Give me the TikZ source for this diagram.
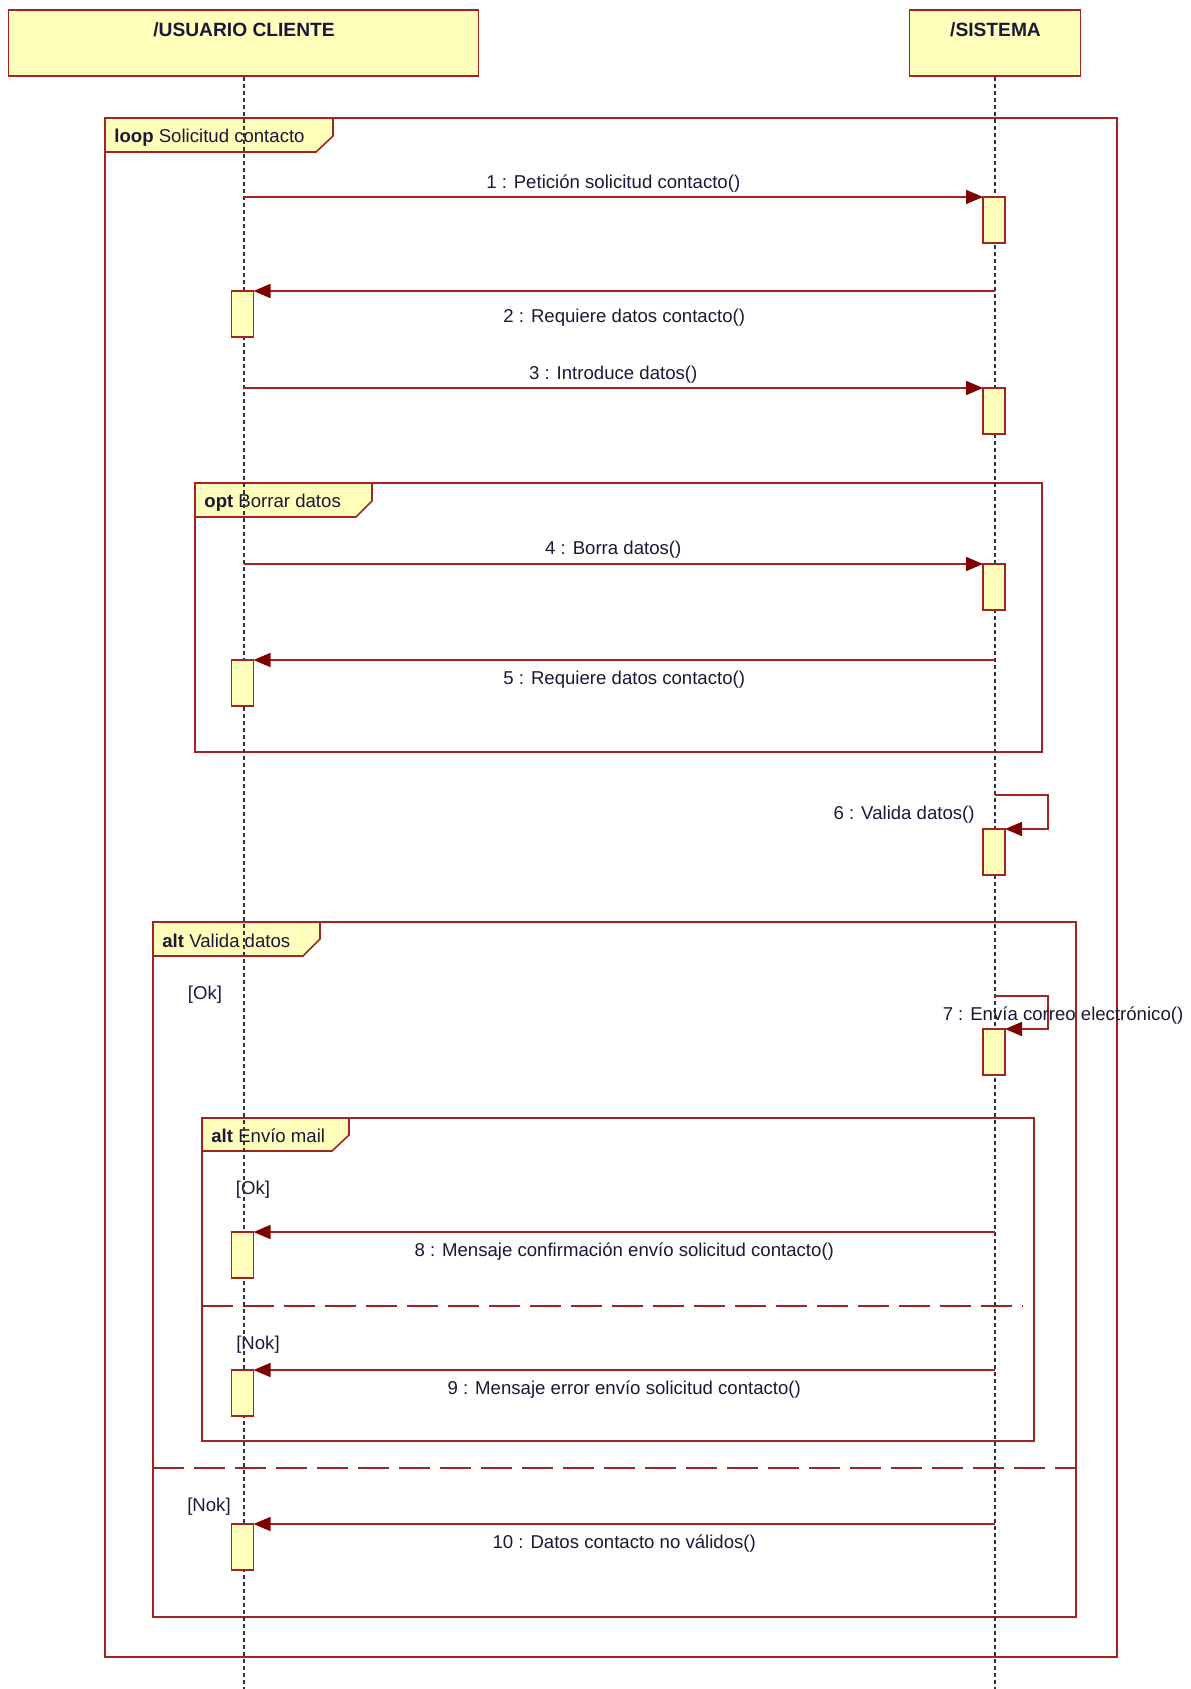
\documentclass[tikz,border=0pt]{standalone}
\usepackage{fontspec}
\setmainfont{Liberation Sans}
\usetikzlibrary{arrows.meta}
\definecolor{frm}{RGB}{163,35,35}
\definecolor{fil}{RGB}{255,255,187}
\definecolor{arr}{RGB}{128,0,0}
\definecolor{txt}{RGB}{25,25,55}
\definecolor{lfl}{RGB}{50,50,50}
\tikzset{
 head/.style={draw=frm, fill=fil, line width=0.8pt, inner sep=0pt},
 act/.style={draw=frm, fill=fil, line width=0.8pt, minimum width=11pt, minimum height=23pt, inner sep=0pt, outer sep=0pt},
 lifeline/.style={draw=lfl, line width=1pt, dash pattern=on 2pt off 1.5pt},
 frame/.style={draw=frm, line width=0.8pt},
 tab/.style={draw=frm, fill=fil, line width=0.8pt},
 sep/.style={draw=frm, line width=0.8pt, dash pattern=on 15.5pt off 5pt},
 msg/.style={draw=frm, line width=0.8pt, -{Triangle[length=8.5pt,width=7pt,color=arr]}},
 lbl/.style={font=\fontsize{9.3}{11}\selectfont, text=txt, inner sep=0pt},
 hd/.style={font=\bfseries\fontsize{9.6}{11}\selectfont, text=txt, inner sep=0pt},
}
\begin{document}
\begin{tikzpicture}[x=0.5pt,y=-0.5pt]
\useasboundingbox (0,0) rectangle (1190,1689);
% heads
\node[head, minimum width=235pt, minimum height=33pt] (uc) at (243.5,43) {};
\node[hd] (uct) at (244,29.5) {/USUARIO CLIENTE};
\node[head, minimum width=85.5pt, minimum height=33pt] (si) at (995,43) {};
\node[hd] (sit) at (995.5,29.5) {/SISTEMA};
% frames
\draw[frame] (105,118) rectangle (1117,1657);
\draw[tab] (105,118) -- (333,118) -- (333,136) -- (316,152) -- (105,152) -- cycle;
\node[lbl, anchor=west] (tloop) at (114,137.5) {\textbf{loop} Solicitud contacto};
\draw[frame] (195,483) rectangle (1042,752);
\draw[tab] (195,483) -- (372,483) -- (372,501) -- (356,517) -- (195,517) -- cycle;
\node[lbl, anchor=west] (topt) at (204,503) {\textbf{opt} Borrar datos};
\draw[frame] (153,922) rectangle (1076,1617);
\draw[tab] (153,922) -- (320,922) -- (320,939) -- (303,956) -- (153,956) -- cycle;
\node[lbl, anchor=west] (talt1) at (162,940.5) {\textbf{alt} Valida datos};
\draw[frame] (202,1118) rectangle (1034,1441);
\draw[tab] (202,1118) -- (349,1118) -- (349,1135) -- (332,1151) -- (202,1151) -- cycle;
\node[lbl, anchor=west] (talt2) at (211,1135.5) {\textbf{alt} Envío mail};
\draw[sep] (202,1306) -- (1023,1306);
\draw[sep] (153,1468) -- (1076,1468);
% guards
\node[lbl] (g1) at (205,994.5) {[Ok]};
\node[lbl] (g2) at (253,1190) {[Ok]};
\node[lbl] (g3) at (258,1344.5) {[Nok]};
\node[lbl] (g4) at (209,1506.5) {[Nok]};
% lifelines
\coordinate (ucb) at (243.5,1689);
\coordinate (sib) at (995,1689);
\draw[lifeline] (uc.south) -- (ucb);
\draw[lifeline] (si.south) -- (sib);
% activations
\node[act] (a1) at (994,220) {};
\node[act] (a2) at (242.5,314) {};
\node[act] (a3) at (994,411) {};
\node[act] (a4) at (994,587) {};
\node[act] (a5) at (242.5,683) {};
\node[act] (a6) at (994,852) {};
\node[act] (a7) at (994,1052) {};
\node[act] (a8) at (242.5,1255) {};
\node[act] (a9) at (242.5,1393) {};
\node[act] (a10) at (242.5,1547) {};
% messages
\coordinate (s1) at (243.5,197);
\draw[msg] (s1) -- (a1.west |- s1) node[lbl, midway, yshift=6.5pt] (l1) {1 : Petición solicitud contacto()};
\coordinate (s2) at (995,291);
\draw[msg] (s2) -- (a2.east |- s2) node[lbl, midway, yshift=-13.5pt] (l2) {2 : Requiere datos contacto()};
\coordinate (s3) at (243.5,388);
\draw[msg] (s3) -- (a3.west |- s3) node[lbl, midway, yshift=6.5pt] (l3) {3 : Introduce datos()};
\coordinate (s4) at (243.5,564);
\draw[msg] (s4) -- (a4.west |- s4) node[lbl, midway, yshift=7pt] (l4) {4 : Borra datos()};
\coordinate (s5) at (995,660);
\draw[msg] (s5) -- (a5.east |- s5) node[lbl, midway, yshift=-10pt] (l5) {5 : Requiere datos contacto()};
\coordinate (s6) at (995,795);
\draw[msg] (s6) -- ++(53,0) |- (a6.north east);
\node[lbl, anchor=east] (l6) at (975,815) {6 : Valida datos()};
\coordinate (s7) at (995,996);
\draw[msg] (s7) -- ++(53,0) |- (a7.north east);
\node[lbl] (l7) at (1063,1015.5) {7 : Envía correo electrónico()};
\coordinate (s8) at (995,1232);
\draw[msg] (s8) -- (a8.east |- s8) node[lbl, midway, yshift=-10pt] (l8) {8 : Mensaje confirmación envío solicitud contacto()};
\coordinate (s9) at (995,1370);
\draw[msg] (s9) -- (a9.east |- s9) node[lbl, midway, yshift=-10pt] (l9) {9 : Mensaje error envío solicitud contacto()};
\coordinate (s10) at (995,1524);
\draw[msg] (s10) -- (a10.east |- s10) node[lbl, midway, yshift=-10pt] (l10) {10 : Datos contacto no válidos()};
\end{tikzpicture}
\end{document}
